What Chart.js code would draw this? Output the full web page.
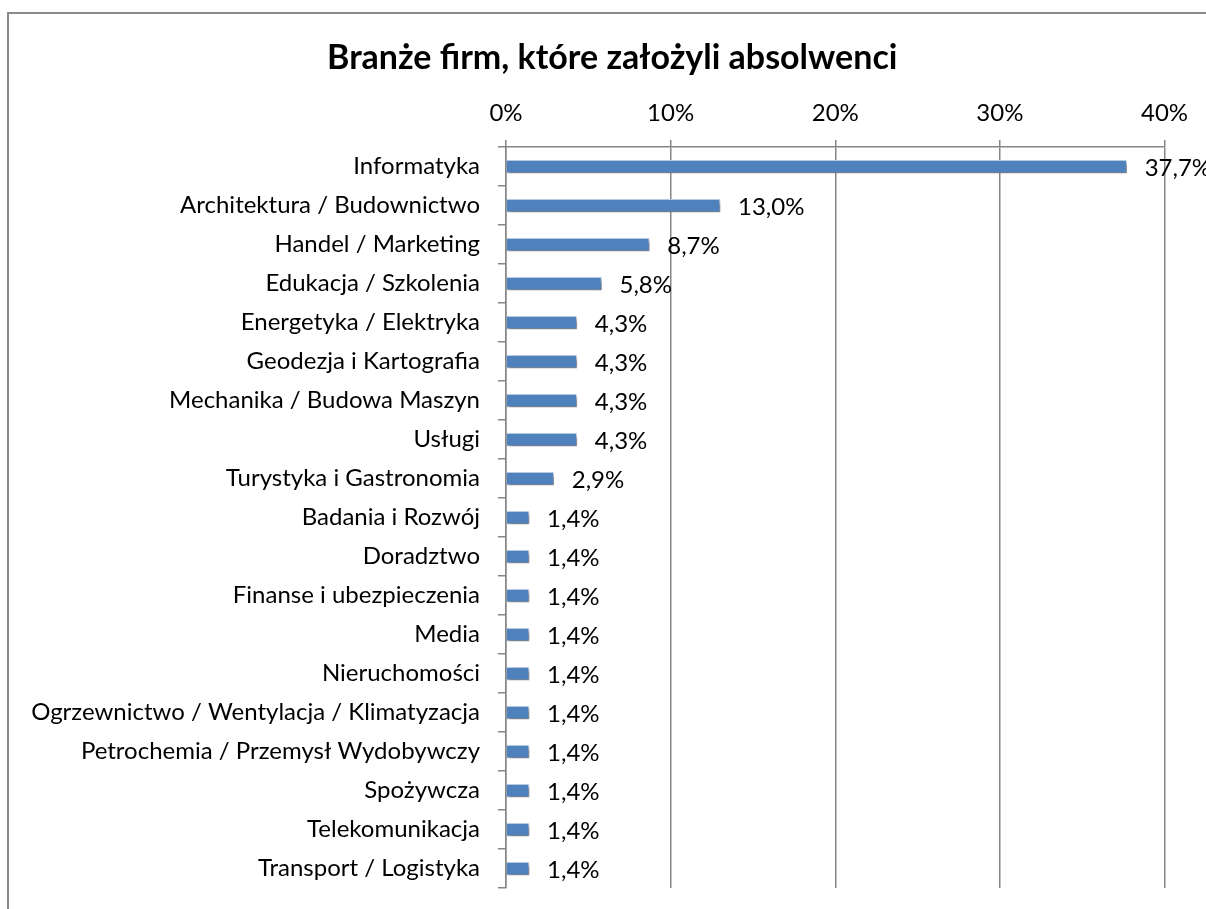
<!DOCTYPE html>
<html>
<head>
<meta charset="utf-8">
<script src="https://cdn.jsdelivr.net/npm/chart.js@4/dist/chart.umd.min.js"></script>
<style>
    html, body { margin: 0; padding: 0; background: #fff; }
    #wrap { position: relative; width: 1206px; height: 909px; overflow: hidden; }
    #frame {
        position: absolute; left: 7px; top: 12px; width: 1400px; height: 1000px;
        border-left: 2px solid #8a8a8a; border-top: 2px solid #8a8a8a;
    }
    canvas { position: absolute; left: 0; top: 0; }
</style>
</head>
<body>
<div id="wrap">
    <div id="frame"></div>
    <canvas id="chart" width="1206" height="909"></canvas>
</div>
<script>
const categories = [
    'Informatyka',
    'Architektura / Budownictwo',
    'Handel / Marketing',
    'Edukacja / Szkolenia',
    'Energetyka / Elektryka',
    'Geodezja i Kartografia',
    'Mechanika / Budowa Maszyn',
    'Usługi',
    'Turystyka i Gastronomia',
    'Badania i Rozwój',
    'Doradztwo',
    'Finanse i ubezpieczenia',
    'Media',
    'Nieruchomości',
    'Ogrzewnictwo / Wentylacja / Klimatyzacja',
    'Petrochemia / Przemysł Wydobywczy',
    'Spożywcza',
    'Telekomunikacja',
    'Transport / Logistyka'
];

const shares = [37.7, 13.0, 8.7, 5.8, 4.3, 4.3, 4.3, 4.3, 2.9, 1.4, 1.4, 1.4, 1.4, 1.4, 1.4, 1.4, 1.4, 1.4, 1.4];

const xTicks = [0, 10, 20, 30, 40];

const FONT = 'Lato, "Open Sans", sans-serif';
const GRID = '#868686';

// shadow under bars + value labels
const barDecor = {
    id: 'barDecor',
    afterLayout(chart) {
        // title sits a bit right of the canvas centre
        if (chart.titleBlock) {
            chart.titleBlock.left = 60;
        }
    },
    beforeDatasetsDraw(chart) {
        const ctx = chart.ctx;
        ctx.save();
        ctx.shadowColor = 'rgba(0, 0, 0, 0.5)';
        ctx.shadowBlur = 4;
        ctx.shadowOffsetX = 2;
        ctx.shadowOffsetY = 3;
    },
    afterDatasetsDraw(chart) {
        const ctx = chart.ctx;
        ctx.restore();

        const meta = chart.getDatasetMeta(0);
        ctx.save();
        ctx.font = '24px ' + FONT;
        ctx.fillStyle = '#000';
        ctx.textAlign = 'left';
        ctx.textBaseline = 'middle';
        meta.data.forEach((bar, i) => {
            const txt = shares[i].toFixed(1).replace('.', ',') + '%';
            ctx.fillText(txt, bar.x + 18, bar.y + 2);
        });
        ctx.restore();
    }
};

new Chart(document.getElementById('chart'), {
    type: 'bar',
    data: {
        labels: categories,
        datasets: [{
            data: shares,
            backgroundColor: '#4F81BD',
            borderColor: '#dfe8f3',
            borderWidth: 1,
            borderSkipped: 'start',
            barThickness: 13
        }]
    },
    options: {
        indexAxis: 'y',
        responsive: false,
        devicePixelRatio: 1,
        animation: false,
        layout: {
            padding: { left: 0, top: 0, right: 41.5, bottom: 21 }
        },
        plugins: {
            legend: { display: false },
            tooltip: { enabled: false },
            title: {
                display: true,
                text: 'Branże firm, które założyli absolwenci',
                color: '#000',
                font: { family: FONT, size: 34, weight: 'bold', lineHeight: 1.2 },
                padding: { top: 37.6, bottom: 9 }
            }
        },
        scales: {
            x: {
                position: 'top',
                min: 0,
                max: 40,
                afterBuildTicks(scale) {
                    scale.ticks = xTicks.map(v => ({ value: v }));
                },
                afterFit(scale) {
                    scale.height = 147 - 87.4;
                },
                ticks: {
                    color: '#000',
                    padding: 12,
                    font: { family: FONT, size: 24 },
                    callback: v => v + '%'
                },
                grid: {
                    color: GRID,
                    lineWidth: 1.5,
                    tickLength: 7
                },
                border: { color: GRID, width: 1.5 }
            },
            y: {
                afterFit(scale) {
                    scale.width = 506;
                    scale.paddingTop = 0;
                    scale.paddingBottom = 0;
                },
                ticks: {
                    color: '#000',
                    padding: 18,
                    autoSkip: false,
                    font: { family: FONT, size: 24 }
                },
                grid: {
                    color: GRID,
                    lineWidth: 1.5,
                    offset: true,
                    drawOnChartArea: false,
                    tickLength: 8
                },
                border: { color: GRID, width: 1.5 }
            }
        }
    },
    plugins: [barDecor]
});
</script>
</body>
</html>
